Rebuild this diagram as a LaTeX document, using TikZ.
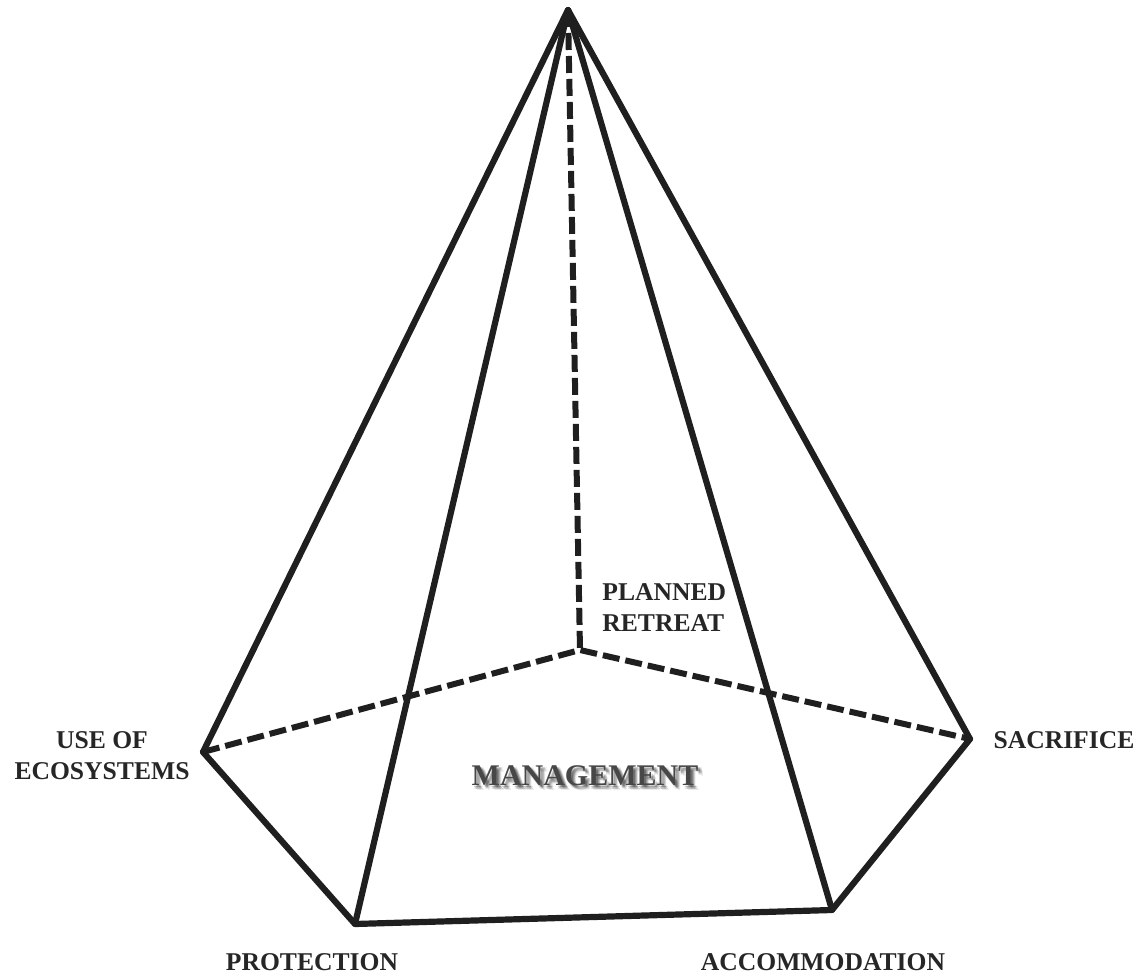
\documentclass[tikz,border=0pt]{standalone}
\usepackage{fontspec}
\setmainfont{Liberation Serif}
\begin{document}
\begin{tikzpicture}[x=0.5pt,y=-0.5pt,
  edge/.style={line width=3.1pt,draw=black!88,line join=round,line cap=round},
  hidden/.style={line width=3pt,draw=black!88,dash pattern=on 8.5pt off 3pt},
  label/.style={font=\fontsize{12.8}{15.5}\selectfont\bfseries,text=black!85,inner sep=0pt}
]
\useasboundingbox (0,0) rectangle (1138,977);

% vertices of the pentagonal pyramid
\coordinate (apex) at (568,10);
\coordinate (pr)   at (580,650);
\coordinate (uoe)  at (203,752);
\coordinate (sac)  at (970,739);
\coordinate (prot) at (355,924);
\coordinate (acc)  at (832,910);

% hidden (back) edges
\draw[hidden] (apex) -- (pr);
\draw[hidden] (uoe) -- (pr) -- (sac);

% visible edges
\draw[edge] (uoe) -- (apex) -- (sac);
\draw[edge] (apex) -- (prot);
\draw[edge] (apex) -- (acc);
\draw[edge] (uoe) -- (prot) -- (acc) -- (sac);

% vertex labels
\node[label,align=left,anchor=west] (lpr) at (602,608) {PLANNED\\RETREAT};
\node[label,align=center] (luoe) at (102,756) {USE OF\\ECOSYSTEMS};
\node[label] (lsac) at (1064,740) {SACRIFICE};
\node[label] (lprot) at (312,962) {PROTECTION};
\node[label] (lacc) at (823,962) {ACCOMMODATION};

% centre label with soft shadow
\foreach \dx/\dy/\op in {5/5/0.08,4/4/0.12,3/3/0.16,2/2/0.2,4/2/0.1,2/4/0.1}
  \node[label,font=\fontsize{15}{18}\selectfont\bfseries,text=black,opacity=\op] at (585+\dx,776+\dy) {MANAGEMENT};
\node[label,font=\fontsize{15}{18}\selectfont\bfseries,text=black!72] (lman) at (585,776) {MANAGEMENT};
\end{tikzpicture}
\end{document}
